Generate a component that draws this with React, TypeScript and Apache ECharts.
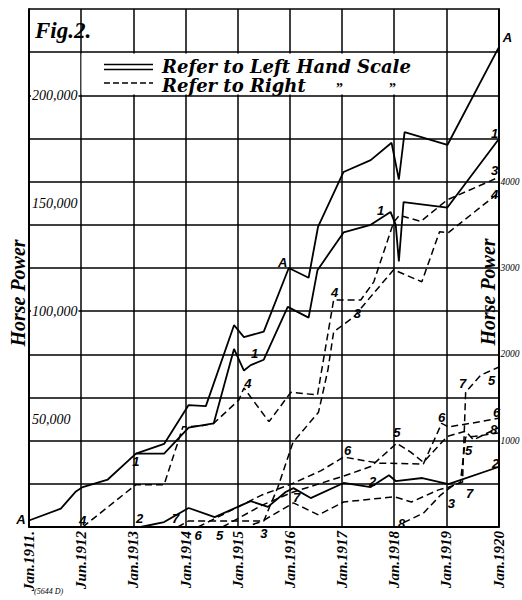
import React, { useEffect, useRef } from 'react';
import * as echarts from 'echarts';

// ---------- tick labels ----------
const X_TICK_LABELS = ['Jan.1911.', 'Jun.1912', 'Jan.1913', 'Jan.1914', 'Jan.1915', 'Jan.1916', 'Jan.1917', 'Jan.1918', 'Jan.1919', 'Jan.1920'];
const LEFT_TICK_VALUES = [50000, 100000, 150000, 200000];
const LEFT_TICK_LABELS = ['50,000', '100,000', '150,000', '200,000'];
const RIGHT_TICK_VALUES = [1000, 2000, 3000, 4000];
const RIGHT_TICK_LABELS = ['1000', '2000', '3000', '4000'];

// ---------- series (time in years after Jan 1911, horse power) ----------
// Left hand scale (solid)
const TIME_A = [0, 0.61, 0.9, 1.03, 1.51, 2.05, 2.59, 3.06, 3.39, 3.93, 4.12, 4.5, 4.98, 5.36, 5.54, 6.03, 6.55, 6.95, 7.09, 7.2, 8.02, 9];
const HP_A = [3000, 8500, 16500, 18500, 22000, 34000, 38500, 56500, 56000, 93500, 88000, 90500, 120000, 115500, 139000, 164500, 170000, 178000, 161000, 183000, 177000, 222000];

const TIME_1 = [2.05, 2.59, 3.06, 3.54, 3.93, 4.12, 4.25, 4.5, 4.96, 5.36, 5.53, 6.03, 6.55, 6.93, 7.03, 7.09, 7.18, 8.02, 9];
const HP_1 = [34000, 34000, 46000, 48000, 82500, 72500, 75000, 77500, 102000, 97000, 119000, 136500, 140000, 146000, 140000, 123000, 150500, 148000, 179500];

const TIME_2 = [2.14, 2.59, 3.06, 3.56, 4.25, 4.58, 4.92, 5.07, 5.4, 6.03, 6.55, 6.9, 7.03, 7.54, 8.04, 9];
const HP_2 = [0, 2300, 8800, 4600, 12000, 9300, 16200, 18000, 13400, 20400, 18500, 24000, 21300, 22700, 19900, 27800];

// Right hand scale (dashed)
const TIME_3 = [4.29, 4.5, 4.77, 5.06, 5.55, 5.73, 5.84, 6.22, 6.61, 6.99, 7.53, 7.87, 8.04, 9];
const HP_3 = [30, 70, 460, 980, 1330, 1820, 2260, 2430, 2710, 2980, 2840, 3420, 3410, 3870];

const TIME_4 = [1.03, 2.05, 2.59, 2.95, 3.29, 3.54, 4.02, 4.12, 4.6, 5.02, 5.53, 5.84, 6.36, 6.61, 6.99, 7.1, 7.51, 8.02, 9];
const HP_4 = [0, 490, 490, 1160, 1170, 1200, 1470, 1610, 1220, 1560, 1530, 2630, 2630, 2840, 3530, 3610, 3540, 3790, 4050];

const TIME_5 = [3.71, 4.46, 5.04, 6.03, 6.55, 7.05, 7.31, 7.56, 8.02, 8.37, 8.52, 9];
const HP_5 = [0, 250, 400, 590, 700, 970, 870, 750, 1050, 1110, 1010, 1150];

const TIME_6 = [3.24, 4.46, 5.04, 5.59, 6.03, 6.7, 7.56, 7.91, 8.04, 8.46, 9];
const HP_6 = [0, 370, 500, 650, 810, 740, 730, 1200, 1160, 1200, 1260];

const TIME_7 = [2.85, 3.06, 4.48, 5.07, 5.55, 6.03, 7.01, 7.33, 7.85, 8.04, 8.31, 8.37, 8.66, 9];
const HP_7 = [0, 70, 70, 280, 140, 290, 350, 290, 430, 460, 520, 1560, 1760, 1850];

const TIME_8 = [7.18, 7.56, 7.89, 8.08, 8.27, 8.37, 8.55, 9];
const HP_8 = [50, 160, 370, 460, 520, 1040, 1050, 1090];

// curve markers: index of point, text
const MARKS_A = [[0, 'A'], [12, 'A'], [21, 'A']];
const MARKS_1 = [[0, '1'], [6, '1'], [13, '1'], [18, '1']];
const MARKS_2 = [[0, '2'], [10, '2'], [15, '2']];
const MARKS_3 = [[0, '3'], [7, '3'], [13, '4']];
const MARKS_4 = [[0, '4'], [7, '4'], [11, '4'], [18, '3']];
const MARKS_5 = [[0, '5'], [5, '5']];
const MARKS_6 = [[0, '6'], [4, '6'], [7, '6'], [10, '6']];
const MARKS_7 = [[0, '7'], [3, '7'], [9, '3'], [10, '7'], [11, '7'], [13, '5']];
const MARKS_8 = [[0, '8'], [5, '5'], [7, '8']];

// label offsets (style only)
const OFFSETS: Record<string, number[][]> = {
  A: [[-8, -1], [-6, -6], [9, -10]],
  '1': [[0, 8], [4, -12], [-10, -1], [-4, -6]],
  '2': [[-1, -9], [2, -6], [-3, -3]],
  '3': [[11, 9], [4, -4], [-4, 2]],
  '4': [[0, -7], [4, -5], [1, -7], [-4, -7]],
  '5': [[-3, 8], [0, -11]],
  '6': [[0, 8], [4, -7], [0, -6], [-2, -6]],
  '7': [[-2, -9], [3, -5], [3, 16], [7, 11], [-3, -9], [-7, 13]],
  '8': [[-2, 1], [3, 13], [-5, -3]],
};

const DEFS = [
  { key: 'A', t: TIME_A, v: HP_A, marks: MARKS_A, axis: 0, dashed: false },
  { key: '1', t: TIME_1, v: HP_1, marks: MARKS_1, axis: 0, dashed: false },
  { key: '2', t: TIME_2, v: HP_2, marks: MARKS_2, axis: 0, dashed: false },
  { key: '3', t: TIME_3, v: HP_3, marks: MARKS_3, axis: 1, dashed: true },
  { key: '4', t: TIME_4, v: HP_4, marks: MARKS_4, axis: 1, dashed: true },
  { key: '5', t: TIME_5, v: HP_5, marks: MARKS_5, axis: 1, dashed: true },
  { key: '6', t: TIME_6, v: HP_6, marks: MARKS_6, axis: 1, dashed: true },
  { key: '7', t: TIME_7, v: HP_7, marks: MARKS_7, axis: 1, dashed: true },
  { key: '8', t: TIME_8, v: HP_8, marks: MARKS_8, axis: 1, dashed: true },
];

const LEGEND_LEFT = 'Refer to Left Hand Scale';
const LEGEND_RIGHT = 'Refer to Right';
const DITTO = '”';

const SERIF = '"Liberation Serif", "DejaVu Serif", serif';
const WIDE_SERIF = '"DejaVu Serif", "Liberation Serif", serif';
const SANS = '"Liberation Sans", "DejaVu Sans", sans-serif';

function buildSeries(def: any) {
  const offs = OFFSETS[def.key] || [];
  const data = def.t.map((t: number, i: number) => {
    const mi = def.marks.findIndex((m: any) => m[0] === i);
    if (mi < 0) return [t, def.v[i]];
    const off = offs[mi] || [0, 0];
    return {
      value: [t, def.v[i]],
      label: { show: true, formatter: def.marks[mi][1], offset: off },
    };
  });
  return {
    type: 'line',
    name: def.key,
    yAxisIndex: def.axis,
    data,
    symbol: 'circle',
    symbolSize: 1,
    showSymbol: true,
    itemStyle: { color: 'rgba(0,0,0,0)' },
    lineStyle: { color: '#000', width: def.dashed ? 1.5 : 1.8, type: def.dashed ? [7, 4] : 'solid' },
    label: {
      show: false,
      position: 'inside',
      color: '#000',
      fontFamily: SANS,
      fontWeight: 'bold',
      fontStyle: 'italic',
      fontSize: 13,
    },
    silent: true,
    emphasis: { disabled: true },
    z: 3,
  };
}

export default function App() {
  const ref = useRef<HTMLDivElement>(null);
  useEffect(() => {
    if (!ref.current) return;
    const chart = echarts.init(ref.current, null, { renderer: 'svg' });
    const option: any = {
      animation: false,
      backgroundColor: '#fff',
      grid: { left: 29, right: 23.5, top: 9, bottom: 73, containLabel: false, outerBoundsMode: 'none' },
      xAxis: {
        type: 'value',
        min: 0,
        max: 9,
        interval: 1,
        axisLine: { show: true, lineStyle: { color: '#000', width: 2 } },
        axisTick: { show: false },
        splitLine: { show: true, lineStyle: { color: '#000', width: 1.5 } },
        axisLabel: {
          rotate: 90,
          margin: 4,
          formatter: (v: number) => X_TICK_LABELS[Math.round(v)] || '',
          fontFamily: SERIF,
          fontStyle: 'italic',
          fontWeight: 'bold',
          fontSize: 15,
          color: '#000',
        },
      },
      yAxis: [
        {
          type: 'value',
          min: 0,
          max: 240000,
          interval: 20000,
          position: 'left',
          axisLine: { show: true, lineStyle: { color: '#000', width: 2 } },
          axisTick: { show: false },
          axisLabel: { show: false },
          splitLine: { show: true, lineStyle: { color: '#000', width: 1.5 } },
        },
        {
          type: 'value',
          min: 0,
          max: 6000,
          interval: 500,
          position: 'right',
          axisLine: { show: true, lineStyle: { color: '#000', width: 2 } },
          axisTick: { show: false },
          splitLine: { show: false },
          axisLabel: {
            margin: 2,
            formatter: (v: number) => {
              const k = RIGHT_TICK_VALUES.indexOf(v);
              return k >= 0 ? RIGHT_TICK_LABELS[k] : '';
            },
            fontFamily: SERIF,
            fontStyle: 'italic',
            fontSize: 9.5,
            color: '#000',
          },
        },
        {
          type: 'value',
          min: 0,
          max: 240000,
          interval: 10000,
          position: 'left',
          axisLine: { show: false },
          axisTick: { show: false },
          splitLine: { show: false },
          axisLabel: {
            inside: true,
            margin: 2,
            formatter: (v: number) => {
              const k = LEFT_TICK_VALUES.indexOf(v);
              return k >= 0 ? '{w|' + LEFT_TICK_LABELS[k] + '}' : '';
            },
            rich: {
              w: {
                backgroundColor: '#fff',
                padding: [1, 1],
                fontFamily: SERIF,
                fontStyle: 'italic',
                fontSize: 14,
                color: '#000',
              },
            },
          },
        },
      ],
      graphic: [
        { type: 'rect', z: 10, shape: { x: 81.5, y: 53.6, width: 363, height: 40.8 }, style: { fill: '#fff' } },
        { type: 'line', z: 11, shape: { x1: 104, y1: 64.5, x2: 153, y2: 64.5 }, style: { stroke: '#000', lineWidth: 1.6 } },
        { type: 'line', z: 11, shape: { x1: 104, y1: 69.5, x2: 153, y2: 69.5 }, style: { stroke: '#000', lineWidth: 1.6 } },
        { type: 'line', z: 11, shape: { x1: 104, y1: 83, x2: 153, y2: 83 }, style: { stroke: '#000', lineWidth: 1.6, lineDash: [6, 3] } },
        { type: 'text', z: 11, x: 162, y: 66, style: { text: LEGEND_LEFT, font: 'italic bold 18px ' + WIDE_SERIF, fill: '#000', verticalAlign: 'middle' } },
        { type: 'text', z: 11, x: 162, y: 85, style: { text: LEGEND_RIGHT, font: 'italic bold 18px ' + WIDE_SERIF, fill: '#000', verticalAlign: 'middle' } },
        { type: 'text', z: 11, x: 336, y: 88, style: { text: DITTO, font: 'bold 14px ' + SERIF, fill: '#000', verticalAlign: 'middle' } },
        { type: 'text', z: 11, x: 389, y: 88, style: { text: DITTO, font: 'bold 14px ' + SERIF, fill: '#000', verticalAlign: 'middle' } },
        { type: 'text', z: 11, x: 35, y: 30, style: { text: 'Fig.2.', font: 'italic bold 23px ' + SERIF, fill: '#000', verticalAlign: 'middle' } },
        { type: 'text', z: 11, x: 18, y: 293, rotation: Math.PI / 2, style: { text: 'Horse Power', font: 'italic bold 20px ' + SERIF, fill: '#000', align: 'center', verticalAlign: 'middle' } },
        { type: 'text', z: 11, x: 488, y: 292, rotation: Math.PI / 2, style: { text: 'Horse Power', font: 'italic bold 20px ' + SERIF, fill: '#000', align: 'center', verticalAlign: 'middle' } },
        { type: 'text', z: 11, x: 34, y: 591, style: { text: '(5644 D)', font: 'italic 8px ' + SERIF, fill: '#000', verticalAlign: 'middle' } },
      ],
      series: DEFS.map(buildSeries),
    };
    chart.setOption(option);
    return () => chart.dispose();
  }, []);
  return <div ref={ref} style={{ position: 'absolute', left: 0, top: 0, width: 522, height: 600, background: '#fff' }} />;
}
